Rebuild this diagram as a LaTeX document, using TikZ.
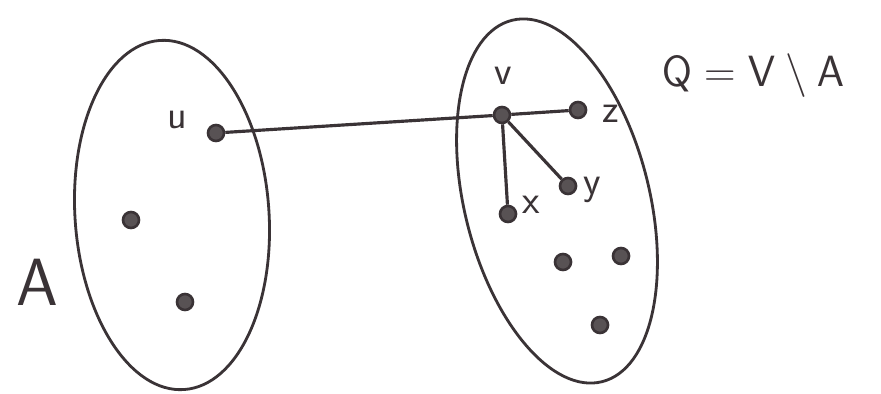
\documentclass[tikz,border=0pt]{standalone}
\usetikzlibrary{shapes.geometric}
\definecolor{ink}{HTML}{3A3336}
\begin{document}
\begin{tikzpicture}[x=0.02cm,y=-0.02cm,
  ink/.style={draw=ink,line width=1.6pt},
  setshape/.style={ink,ellipse,inner sep=0pt},
  vtx/.style={circle,draw=ink,line width=1.5pt,fill=ink!85,inner sep=0pt,minimum size=0.32cm},
  lbl/.style={text=ink,font=\sffamily\fontsize{23}{23}\selectfont,inner sep=0pt},
  big/.style={text=ink,font=\sffamily\fontsize{38}{38}\selectfont,inner sep=0pt},
  edge/.style={draw=ink,line width=1.8pt}]
\fill[white] (0,0) rectangle (881,394);
\useasboundingbox (0,0) rectangle (881,394);
% sets
\node[setshape,minimum width=3.88cm,minimum height=7.0cm,rotate=4] (A) at (172,215) {};
\node[setshape,minimum width=3.7cm,minimum height=7.45cm,rotate=14] (Q) at (557,201) {};
% vertices
\node[vtx] (u) at (216,133) {};
\node[vtx] (v) at (502,115) {};
\node[vtx] (z) at (578,110) {};
\node[vtx] (y) at (568,186) {};
\node[vtx] (x) at (508,214) {};
\node[vtx] (a1) at (131,220) {};
\node[vtx] (a2) at (185,302) {};
\node[vtx] (q1) at (563,262) {};
\node[vtx] (q2) at (621,256) {};
\node[vtx] (q3) at (600,325) {};
% labels
\node[lbl] (lu) at (177,120) {u};
\node[lbl] (lv) at (503,76) {v};
\node[lbl] (lz) at (611,114) {z};
\node[lbl] (ly) at (592,190) {y};
\node[lbl] (lx) at (531,205) {x};
\node[big] (lA) at (37,282) {A};
\node[big] (lQ) at (753,76) {$\mathsf{Q}=\mathsf{V}\setminus\mathsf{A}$};
% edges
\draw[edge] (u) -- (v);
\draw[edge] (v) -- (z);
\draw[edge] (v) -- (y);
\draw[edge] (v) -- (x);
\end{tikzpicture}
\end{document}
